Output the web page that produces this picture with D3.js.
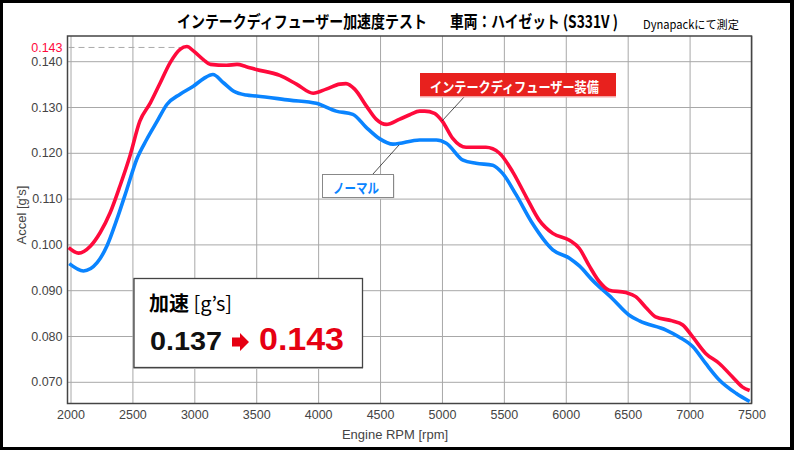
<!DOCTYPE html>
<html>
<head>
<meta charset="utf-8">
<script src="https://cdn.jsdelivr.net/npm/d3@7"></script>
<style>
  body { margin: 0; background: #fff; }
  svg { display: block; }
  .tick text { font-family: "Liberation Sans", Arial, sans-serif; fill: #444; }
</style>
</head>
<body>
<div id="chart"></div>
<script>
// curve readings, rpm / accel [g's]
var redRpm = [1985, 2065, 2160, 2240, 2320, 2400, 2480, 2560, 2645, 2725, 2805, 2885, 2940, 2995, 3075, 3130, 3260, 3345, 3420, 3500, 3690, 3825, 3960, 4065, 4175, 4225, 4295, 4390, 4470, 4550, 4655, 4740, 4820, 4860, 4940, 5005, 5085, 5195, 5355, 5465, 5570, 5680, 5785, 5895, 6030, 6110, 6190, 6270, 6350, 6485, 6565, 6645, 6725, 6860, 6945, 7025, 7130, 7240, 7345, 7425, 7485];
var redAccel = [0.0993, 0.0981, 0.0996, 0.1026, 0.1069, 0.1128, 0.1193, 0.1269, 0.1309, 0.1353, 0.1397, 0.1426, 0.1432, 0.1422, 0.1403, 0.1393, 0.1391, 0.1393, 0.1388, 0.1382, 0.1369, 0.1350, 0.1330, 0.1339, 0.1350, 0.1351, 0.1339, 0.1302, 0.1273, 0.1262, 0.1273, 0.1283, 0.1291, 0.1291, 0.1286, 0.1268, 0.1232, 0.1212, 0.1212, 0.1199, 0.1159, 0.1104, 0.1053, 0.1024, 0.1009, 0.0991, 0.0953, 0.0919, 0.0900, 0.0895, 0.0886, 0.0863, 0.0842, 0.0833, 0.0824, 0.0798, 0.0762, 0.0740, 0.0711, 0.0689, 0.0681];

var blueRpm = [1990, 2105, 2215, 2295, 2375, 2455, 2535, 2615, 2700, 2780, 2885, 2995, 3075, 3150, 3235, 3315, 3420, 3500, 3770, 3985, 4145, 4280, 4390, 4495, 4605, 4820, 4955, 5035, 5170, 5275, 5410, 5490, 5600, 5730, 5895, 6030, 6110, 6215, 6375, 6510, 6595, 6810, 6915, 7025, 7130, 7240, 7375, 7485];
var blueAccel = [0.0958, 0.0942, 0.0960, 0.0997, 0.1055, 0.1120, 0.1186, 0.1229, 0.1269, 0.1306, 0.1328, 0.1346, 0.1362, 0.1371, 0.1353, 0.1335, 0.1326, 0.1324, 0.1315, 0.1308, 0.1291, 0.1284, 0.1255, 0.1231, 0.1219, 0.1228, 0.1228, 0.1221, 0.1184, 0.1177, 0.1173, 0.1155, 0.1108, 0.1046, 0.0988, 0.0970, 0.0953, 0.0922, 0.0882, 0.0846, 0.0833, 0.0813, 0.0798, 0.0777, 0.0740, 0.0704, 0.0675, 0.0657];

var xTicks = [2000, 2500, 3000, 3500, 4000, 4500, 5000, 5500, 6000, 6500, 7000, 7500];
var yTicks = [0.07, 0.08, 0.09, 0.10, 0.11, 0.12, 0.13, 0.14];
var peakValue = 0.143, peakRpm = 2940;
var baseValue = 0.137;

var W = 794, H = 450;
var plot = {left: 67.5, right: 751.5, top: 36, bottom: 403.5};
var jp = '"Noto Sans CJK JP", sans-serif';
var latin = '"Liberation Sans", Arial, sans-serif';
var red = "#ff0a3c", blue = "#0a84ff";

var svg = d3.select("#chart").append("svg")
    .attr("width", W).attr("height", H);

// squeeze a text horizontally so it spans w pixels from (x0, y0)
function fit(sel, x0, y0, w) {
    var n = sel.node().getComputedTextLength();
    sel.attr("transform", "translate(" + x0 + "," + y0 + ") scale(" + (w / n) + ",1)");
    return sel;
}

// black frame round the picture
svg.append("rect").attr("width", W).attr("height", H).attr("fill", "#000");
svg.append("rect").attr("x", 3).attr("y", 3).attr("width", 787).attr("height", 444).attr("fill", "#fff");

var x = d3.scaleLinear().domain([2000, 7500]).range([70.5, 751.5]);
var y = d3.scaleLinear().domain([0.07, 0.14]).range([381.8, 61.2]);

// grid
svg.append("g")
    .attr("transform", "translate(0," + plot.bottom + ")")
    .call(d3.axisBottom(x).tickValues(xTicks).tickSize(-(plot.bottom - plot.top)).tickFormat(d3.format("d")).tickPadding(7))
    .call(g => g.select(".domain").remove())
    .call(g => g.selectAll(".tick line").attr("stroke", "#a8a8a8"))
    .call(g => g.selectAll(".tick text").style("font-size", "12.5px"));

svg.append("g")
    .attr("transform", "translate(" + plot.left + ",0)")
    .call(d3.axisLeft(y).tickValues(yTicks).tickSize(-(plot.right - plot.left)).tickFormat(d3.format(".3f")).tickPadding(5))
    .call(g => g.select(".domain").remove())
    .call(g => g.selectAll(".tick line").attr("stroke", "#a8a8a8"))
    .call(g => g.selectAll(".tick text").style("font-size", "12.5px"));

// plot frame
svg.append("rect")
    .attr("x", plot.left).attr("y", plot.top)
    .attr("width", plot.right - plot.left).attr("height", plot.bottom - plot.top)
    .attr("fill", "none").attr("stroke", "#444").attr("stroke-width", 1.5);

// peak marker
svg.append("line")
    .attr("x1", plot.left + 1).attr("x2", x(peakRpm))
    .attr("y1", y(peakValue)).attr("y2", y(peakValue))
    .attr("stroke", "#aaa").attr("stroke-dasharray", "6 4");
svg.append("text")
    .attr("x", plot.left - 5).attr("y", y(peakValue) + 4.5)
    .attr("text-anchor", "end")
    .style("font-family", latin).style("font-size", "12.5px")
    .attr("fill", red).text(d3.format(".3f")(peakValue));

svg.append("defs").append("clipPath").attr("id", "clip")
  .append("rect").attr("x", plot.left).attr("y", plot.top)
    .attr("width", plot.right - plot.left).attr("height", plot.bottom - plot.top);

var line = d3.line()
    .x(d => x(d[0])).y(d => y(d[1]))
    .curve(d3.curveMonotoneX);

svg.append("path")
    .datum(d3.zip(blueRpm, blueAccel))
    .attr("clip-path", "url(#clip)")
    .attr("d", line).attr("fill", "none")
    .attr("stroke", blue).attr("stroke-width", 3.6).attr("stroke-linejoin", "round");

svg.append("path")
    .datum(d3.zip(redRpm, redAccel))
    .attr("clip-path", "url(#clip)")
    .attr("d", line).attr("fill", "none")
    .attr("stroke", red).attr("stroke-width", 3.6).attr("stroke-linejoin", "round");

// axis titles
svg.append("text")
    .attr("x", 395).attr("y", 439).attr("text-anchor", "middle")
    .style("font-family", latin).style("font-size", "13px").attr("fill", "#444")
    .text("Engine RPM [rpm]");
svg.append("text")
    .attr("transform", "translate(26,215) rotate(-90)").attr("text-anchor", "middle")
    .style("font-family", latin).style("font-size", "13px").attr("fill", "#444")
    .text("Accel [g's]");

// title
fit(svg.append("text")
    .style("font-family", jp).style("font-size", "17px").style("font-weight", "bold")
    .text("インテークディフューザー加速度テスト"), 177, 28, 250);
fit(svg.append("text")
    .style("font-family", jp).style("font-size", "17px").style("font-weight", "bold")
    .text("車両：ハイゼット (S331V )"), 450, 28, 168);
fit(svg.append("text")
    .style("font-family", jp).style("font-size", "11.5px")
    .text("Dynapackにて測定"), 643, 29, 96);

// series labels with leader lines
svg.append("line").attr("x1", 465).attr("y1", 96).attr("x2", 442).attr("y2", 121)
    .attr("stroke", "#222").attr("stroke-width", 0.8);
svg.append("rect").attr("x", 420).attr("y", 95).attr("width", 196).attr("height", 2.5).attr("fill", "#f4a5a5");
svg.append("rect").attr("x", 420).attr("y", 73).attr("width", 196).attr("height", 23).attr("fill", "#e8211e");
fit(svg.append("text")
    .style("font-family", jp).style("font-size", "14px").style("font-weight", "bold")
    .attr("fill", "#fff").text("インテークディフューザー装備"), 430, 91.5, 169);

svg.append("line").attr("x1", 373).attr("y1", 174).attr("x2", 399).attr("y2", 145)
    .attr("stroke", "#222").attr("stroke-width", 0.8);
svg.append("rect").attr("x", 323.5).attr("y", 175.5).attr("width", 71).attr("height", 23.5)
    .attr("fill", "#d8d8d8");
svg.append("rect").attr("x", 322.5).attr("y", 174.5).attr("width", 71).attr("height", 23)
    .attr("fill", "#fff").attr("stroke", "#888").attr("stroke-width", 1);
fit(svg.append("text")
    .style("font-family", jp).style("font-size", "14px").style("font-weight", "bold")
    .attr("fill", blue).text("ノーマル"), 333, 192.5, 46);

// summary box
var box = svg.append("g");
box.append("rect").attr("x", 133).attr("y", 279).attr("width", 230).attr("height", 90).attr("fill", "#bbb");
box.append("rect").attr("x", 134).attr("y", 278.5).attr("width", 228.5).attr("height", 89)
    .attr("fill", "#fff").attr("stroke", "#444").attr("stroke-width", 1.3);
var t1 = box.append("text").attr("x", 149).attr("y", 311)
    .style("font-family", jp).style("font-size", "20px");
t1.append("tspan").style("font-weight", "bold").text("加速");
t1.append("tspan").text(" [g’s]");

fit(box.append("text")
    .style("font-family", latin).style("font-size", "25px").style("font-weight", "bold")
    .attr("fill", "#111").text(d3.format(".3f")(baseValue)), 150, 350, 72);
box.append("path")
    .attr("d", "M232,337.5 H240 V333 L249,342 L240,351 V346.5 H232 Z")
    .attr("fill", "#e60012");
fit(box.append("text")
    .style("font-family", latin).style("font-size", "31px").style("font-weight", "bold")
    .attr("fill", "#e60012").text(d3.format(".3f")(peakValue)), 259, 350, 85);
</script>
</body>
</html>
